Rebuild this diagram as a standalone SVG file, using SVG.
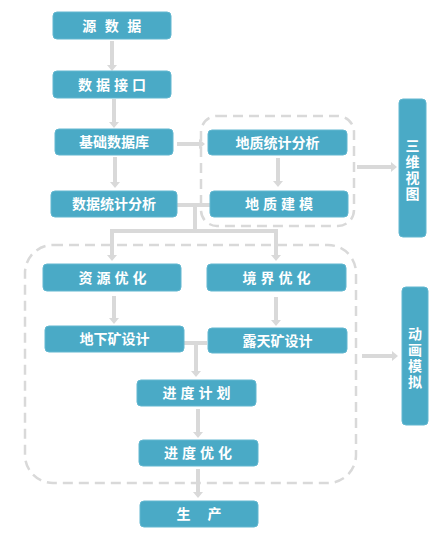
<svg xmlns="http://www.w3.org/2000/svg" width="447" height="544" viewBox="0 0 447 544">
<style>
.box{fill:#4aaac6;stroke:#62b7d0;stroke-width:1}
.t{fill:#fff;font-family:"Noto Sans CJK SC","Microsoft YaHei",sans-serif;font-size:14px;font-weight:bold;text-anchor:middle}
.v{writing-mode:vertical-rl;letter-spacing:2px}
.c{fill:none;stroke:#d9d9d9;stroke-width:4}
.d{fill:none;stroke:#d9d9d9;stroke-width:2.5;stroke-dasharray:10 6}
</style>
<defs>
<marker id="ah" markerUnits="userSpaceOnUse" markerWidth="6" markerHeight="10" refX="0" refY="5" orient="auto" viewBox="0 0 6 10">
<path d="M0,0 L6,5 L0,10 z" fill="#d9d9d9"/>
</marker>
</defs>
<g id="frames">
<rect class="d" x="201" y="116" width="153" height="110" rx="16"/>
<rect class="d" x="25" y="245" width="331" height="238" rx="28"/>
</g>
<g id="connectors">
<path class="c" d="M112,41 V65" marker-end="url(#ah)"/>
<path class="c" d="M114,99 V122" marker-end="url(#ah)"/>
<path class="c" d="M177,144 H199" marker-end="url(#ah)"/>
<path class="c" d="M278,158 V181" marker-end="url(#ah)"/>
<path class="c" d="M357,167 H391" marker-end="url(#ah)"/>
<path class="c" d="M115,157 V182" marker-end="url(#ah)"/>
<path class="c" d="M177,205 H210"/>
<path class="c" d="M195,205 V231"/>
<path class="c" d="M110,231 H278"/>
<path class="c" d="M112,231 V255" marker-end="url(#ah)"/>
<path class="c" d="M276,231 V255" marker-end="url(#ah)"/>
<path class="c" d="M114,296 V318" marker-end="url(#ah)"/>
<path class="c" d="M276,297 V320" marker-end="url(#ah)"/>
<path class="c" d="M184,343 H207"/>
<path class="c" d="M196,341 V371" marker-end="url(#ah)"/>
<path class="c" d="M362,356 H392" marker-end="url(#ah)"/>
<path class="c" d="M198,409 V432" marker-end="url(#ah)"/>
<path class="c" d="M198,469 V492" marker-end="url(#ah)"/>
</g>
<g id="n1"><rect class="box" x="53" y="12" width="118" height="27" rx="4"/><text class="t" x="116" y="31" style="letter-spacing:8.5px">源数据</text></g>
<g id="n2"><rect class="box" x="53" y="71" width="118" height="27" rx="4"/><text class="t" x="114" y="90" style="letter-spacing:4px">数据接口</text></g>
<g id="n3"><rect class="box" x="55" y="129" width="118" height="26" rx="4"/><text class="t" x="114" y="147">基础数据库</text></g>
<g id="n4"><rect class="box" x="51" y="191" width="126" height="26" rx="4"/><text class="t" x="114" y="209">数据统计分析</text></g>
<g id="n5"><rect class="box" x="208" y="130" width="139" height="25" rx="4"/><text class="t" x="277.5" y="148">地质统计分析</text></g>
<g id="n6"><rect class="box" x="210" y="191" width="138" height="26" rx="4"/><text class="t" x="281" y="209" style="letter-spacing:4px">地质建模</text></g>
<g id="n7"><rect class="box" x="399" y="99" width="27" height="138" rx="4"/><text class="t v" x="412.5" y="171">三维视图</text></g>
<g id="n8"><rect class="box" x="43" y="264" width="138" height="27" rx="4"/><text class="t" x="114.5" y="283" style="letter-spacing:4px">资源优化</text></g>
<g id="n9"><rect class="box" x="207" y="264" width="139" height="27" rx="4"/><text class="t" x="278.5" y="283" style="letter-spacing:4px">境界优化</text></g>
<g id="n10"><rect class="box" x="45" y="326" width="139" height="26" rx="4"/><text class="t" x="114.5" y="344">地下矿设计</text></g>
<g id="n11"><rect class="box" x="208" y="328" width="139" height="25" rx="4"/><text class="t" x="277.5" y="346">露天矿设计</text></g>
<g id="n12"><rect class="box" x="402" y="287" width="26" height="138" rx="4"/><text class="t v" x="415" y="358.5">动画模拟</text></g>
<g id="n13"><rect class="box" x="137" y="380" width="119" height="26" rx="4"/><text class="t" x="198.5" y="398" style="letter-spacing:4px">进度计划</text></g>
<g id="n14"><rect class="box" x="139" y="440" width="119" height="26" rx="4"/><text class="t" x="200" y="458" style="letter-spacing:4px">进度优化</text></g>
<g id="n15"><rect class="box" x="140" y="501" width="118" height="26" rx="4"/><text class="t" x="207.5" y="519" style="letter-spacing:17px">生产</text></g>
</svg>
